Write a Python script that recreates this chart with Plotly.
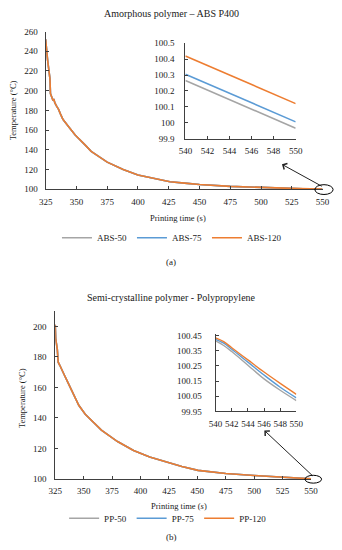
import plotly.graph_objects as go

# ---------------- data ----------------
t_abs = [325, 325.5, 326.5, 327.5, 328.5, 328.9, 330, 331, 331.6, 332.5, 334, 335.5,
         337, 339, 344, 349, 357, 362, 375, 388, 400, 414, 426, 440, 450, 475, 500,
         525, 540, 550]
abs_120 = [252, 244, 232, 222, 212, 197, 193, 190, 191.5, 187.5, 184, 181,
           176.5, 171, 163, 155, 145, 138.5, 127.5, 120, 114.5, 110.5, 107.7, 106, 104.8,
           103, 101.7, 100.9, 100.42, 100.12]
abs_75 = [252, 244, 232, 222, 212, 197, 193, 190, 191.5, 187.5, 184, 181,
          176.5, 171, 163, 155, 145, 138.5, 127.5, 120, 114.5, 110.5, 107.7, 106, 104.8,
          103, 101.7, 100.85, 100.305, 100.005]
abs_50 = [252, 244, 232, 222, 212, 197, 193, 190, 191.5, 187.5, 184, 181,
          176.5, 171, 163, 155, 145, 138.5, 127.5, 120, 114.5, 110.5, 107.7, 106, 104.8,
          103, 101.7, 100.83, 100.265, 99.965]

t_pp = [325, 325.4, 326.8, 327.6, 329, 331.5, 333.2, 336, 339, 341.8, 345.7, 351.4,
        365.6, 379.8, 393.9, 408.1, 422.3, 436.4, 450.6, 475, 500, 525,
        540, 541, 542, 544, 546, 548, 550]
pp_120 = [201, 192, 185, 176.5, 174.5, 171, 167.8, 163.4, 159, 154.8, 148.3, 142.4,
          132, 124.5, 118.6, 114.3, 111, 108.2, 105.6, 103.6, 102.2, 101.1,
          100.435, 100.41, 100.37, 100.29, 100.21, 100.135, 100.063]
pp_75 = [201, 192, 185, 176.5, 174.5, 171, 167.8, 163.4, 159, 154.8, 148.3, 142.4,
         132, 124.5, 118.6, 114.3, 111, 108.2, 105.6, 103.6, 102.2, 101.1,
         100.425, 100.40, 100.36, 100.275, 100.19, 100.11, 100.04]
pp_50 = [201, 192, 185, 176.5, 174.5, 171, 167.8, 163.4, 159, 154.8, 148.3, 142.4,
         132, 124.5, 118.6, 114.3, 111, 108.2, 105.6, 103.6, 102.2, 101.1,
         100.415, 100.385, 100.345, 100.255, 100.165, 100.09, 100.022]

main_x_ticks = [325, 350, 375, 400, 425, 450, 475, 500, 525, 550]
abs_y_ticks = [100, 120, 140, 160, 180, 200, 220, 240, 260]
pp_y_ticks = [100, 120, 140, 160, 180, 200]
inset_x_ticks = [540, 542, 544, 546, 548, 550]
abs_inset_y = [99.9, 100.0, 100.1, 100.2, 100.3, 100.4, 100.5]
abs_inset_lbl = ["99.9", "100", "100.1", "100.2", "100.3", "100.4", "100.5"]
pp_inset_y = [99.95, 100.05, 100.15, 100.25, 100.35, 100.45]
pp_inset_lbl = ["99.95", "100.05", "100.15", "100.25", "100.35", "100.45"]

GRAY, BLUE, ORANGE = "#A5A5A5", "#5B9BD5", "#ED7D31"
W, H = 342, 550
FONT = "Liberation Serif"
TXT = "#1a1a1a"
AX = "#404040"


def px(x):
    return x / W


def py(y):
    return 1 - y / H


fig = go.Figure()

abs_series = [("ABS-50", abs_50, GRAY), ("ABS-75", abs_75, BLUE), ("ABS-120", abs_120, ORANGE)]
pp_series = [("PP-50", pp_50, GRAY), ("PP-75", pp_75, BLUE), ("PP-120", pp_120, ORANGE)]

for name, vals, col in abs_series:
    fig.add_trace(go.Scatter(x=t_abs, y=vals, mode="lines", name=name,
                             line=dict(color=col, width=1.6), xaxis="x", yaxis="y",
                             legend="legend"))
for name, vals, col in abs_series:
    xs = [t for t in t_abs if t >= 540]
    ys = [v for t, v in zip(t_abs, vals) if t >= 540]
    fig.add_trace(go.Scatter(x=xs, y=ys, mode="lines", name=name, showlegend=False,
                             line=dict(color=col, width=1.6), xaxis="x2", yaxis="y2"))
for name, vals, col in pp_series:
    fig.add_trace(go.Scatter(x=t_pp, y=vals, mode="lines", name=name,
                             line=dict(color=col, width=1.6), xaxis="x3", yaxis="y3",
                             legend="legend2"))
for name, vals, col in pp_series:
    xs = [t for t in t_pp if t >= 540]
    ys = [v for t, v in zip(t_pp, vals) if t >= 540]
    fig.add_trace(go.Scatter(x=xs, y=ys, mode="lines", name=name, showlegend=False,
                             line=dict(color=col, width=1.4, shape="spline"),
                             xaxis="x4", yaxis="y4"))

tickfont = dict(family=FONT, size=9, color=TXT)
base = dict(showgrid=False, zeroline=False, showline=True, linecolor=AX, linewidth=1,
            ticks="inside", ticklen=3, tickcolor=AX, tickfont=tickfont, fixedrange=True,
            ticklabeloverflow="allow")

fig.update_layout(
    width=W, height=H, autosize=False,
    margin=dict(l=0, r=0, t=0, b=0),
    paper_bgcolor="white", plot_bgcolor="rgba(0,0,0,0)",
    font=dict(family=FONT, color=TXT),
    xaxis=dict(base, domain=[px(40.3), px(329)], range=[325, 550], tickvals=main_x_ticks,
               anchor="y", ticklabelstandoff=4),
    yaxis=dict(base, domain=[py(187.7), py(27)], range=[100, 260], tickvals=abs_y_ticks,
               anchor="x", ticklabelstandoff=5),
    xaxis2=dict(base, domain=[px(186), px(301)], range=[540, 550], tickvals=inset_x_ticks,
                anchor="y2", ticklabelstandoff=4),
    yaxis2=dict(base, domain=[py(136), py(39)], range=[99.9, 100.5], tickvals=abs_inset_y,
                ticktext=abs_inset_lbl, anchor="x2", ticklabelstandoff=8),
    xaxis3=dict(base, domain=[px(50.3), px(317)], range=[325, 550], tickvals=main_x_ticks,
                anchor="y3", ticklabelstandoff=3),
    yaxis3=dict(base, domain=[py(482.7), py(311.8)], range=[100, 210], tickvals=pp_y_ticks,
                anchor="x3", ticklabelstandoff=6),
    xaxis4=dict(base, domain=[px(217.5), px(301.7)], range=[540, 550], tickvals=inset_x_ticks,
                anchor="y4", ticklabelstandoff=4),
    yaxis4=dict(base, domain=[py(414), py(335.2)], range=[99.95, 100.46], tickvals=pp_inset_y,
                ticktext=pp_inset_lbl, anchor="x4", ticklabelstandoff=11),
    legend=dict(orientation="h", x=px(172), xanchor="center", y=py(237), yanchor="middle",
                font=dict(family=FONT, size=9, color=TXT), bgcolor="rgba(0,0,0,0)",
                itemwidth=30),
    legend2=dict(orientation="h", x=px(168), xanchor="center", y=py(522.7), yanchor="middle",
                 font=dict(family=FONT, size=9, color=TXT), bgcolor="rgba(0,0,0,0)",
                 itemwidth=30),
    showlegend=True,
)

def note(text, x, y, size=8.5, angle=0):
    fig.add_annotation(text=text, x=px(x), y=py(y), xref="paper", yref="paper",
                       showarrow=False, textangle=angle, xanchor="center", yanchor="middle",
                       font=dict(family=FONT, size=size, color=TXT))

note("Amorphous polymer – ABS P400", 171, 9, size=10)
note("Semi-crystalline polymer - Polypropylene", 171, 298, size=10)
note("Temperature (°C)", 6.5, 107, angle=-90, size=8.5)
note("Temperature (°C)", 15, 400, angle=-90, size=8.5)
note("Printing time (s)", 178, 217, size=8.5)
note("Printing time (<i>s</i>)", 179, 510, size=8.5)
note("(a)", 171, 262, size=9)
note("(b)", 171, 541.7, size=9)

# ellipses marking the zoomed region
fig.add_shape(type="circle", xref="paper", yref="paper",
              x0=px(321), x1=px(340), y0=py(193), y1=py(183),
              line=dict(color="black", width=1))
fig.add_shape(type="circle", xref="paper", yref="paper",
              x0=px(310.7), x1=px(328), y0=py(487), y1=py(479),
              line=dict(color="black", width=1))

# arrows (tail offsets in pixels relative to head)
def arrow(hx, hy, tx, ty):
    fig.add_annotation(x=px(hx), y=py(hy), xref="paper", yref="paper",
                       ax=tx - hx, ay=ty - hy, axref="pixel", ayref="pixel",
                       showarrow=True, arrowhead=4, arrowsize=1.3, arrowwidth=1,
                       arrowcolor="#222", text="")

arrow(286.7, 162.3, 328, 185)
arrow(268.3, 433.3, 318, 480)

fig.write_html("out.html", config={"displayModeBar": False},
               post_script="document.body.style.margin='0';")
